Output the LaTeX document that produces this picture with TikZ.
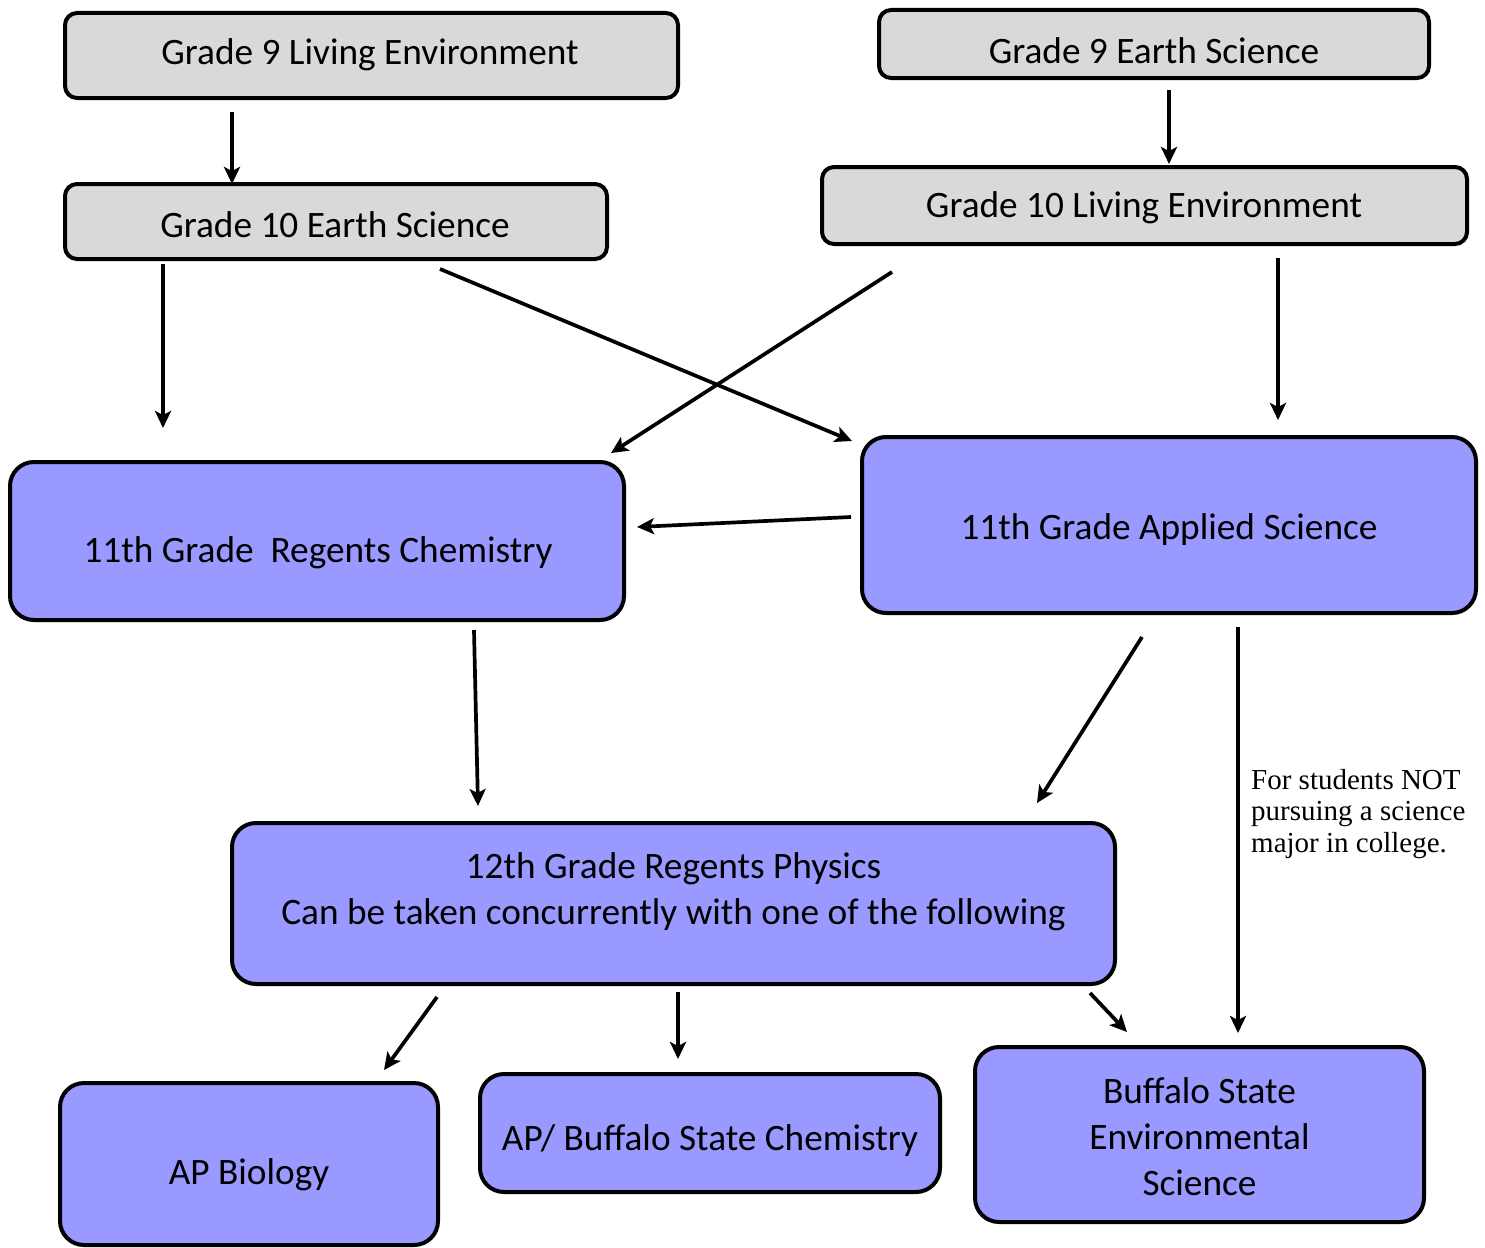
\documentclass[tikz,border=0pt]{standalone}
\usepackage{fontspec}
\setmainfont{Carlito}
\newfontfamily\notefont{Liberation Serif}
\usetikzlibrary{arrows.meta}
\definecolor{boxgray}{HTML}{D9D9D9}
\definecolor{boxblue}{HTML}{9999FF}
\tikzset{
  graybox/.style={draw=black, line width=4pt, fill=boxgray, rounded corners=12pt, inner sep=0pt},
  bluebox/.style={draw=black, line width=4pt, fill=boxblue, rounded corners=24pt, inner sep=0pt},
  txt/.style={font=\fontsize{37.3}{46}\selectfont, align=center, inner sep=0pt},
  arr/.style={line width=3.7pt, -{Stealth[length=17pt, width=16pt, inset=4pt]}}
}
\begin{document}
\begin{tikzpicture}[x=1pt, y=-1pt]
\useasboundingbox (0,0) rectangle (1485,1247);
% boxes
\node[graybox, minimum width=613pt, minimum height=85pt] (g9le) at (371.5,55.5) {};
\node[txt] (g9leT) at (370,55) {Grade 9 Living Environment};
\node[graybox, minimum width=550pt, minimum height=68pt] (g9es) at (1154,44) {};
\node[txt] (g9esT) at (1154,51) {Grade 9 Earth Science};
\node[graybox, minimum width=542pt, minimum height=75pt] (g10es) at (336,221.5) {};
\node[txt] (g10esT) at (335,225) {Grade 10 Earth Science};
\node[graybox, minimum width=645pt, minimum height=77pt] (g10le) at (1144.5,205.5) {};
\node[txt] (g10leT) at (1144,208) {Grade 10 Living Environment};
\node[bluebox, minimum width=614pt, minimum height=158pt] (chem) at (317,541) {};
\node[txt] (chemT) at (318,553) {11th Grade\ \ Regents Chemistry};
\node[bluebox, minimum width=614pt, minimum height=176pt] (appl) at (1169,525) {};
\node[txt] (applT) at (1169,530) {11th Grade Applied Science};
\node[bluebox, minimum width=883pt, minimum height=161pt] (phys) at (673.5,903.5) {};
\node[txt] (physT) at (673.5,891.5) {12th Grade Regents Physics\\Can be taken concurrently with one of the following};
\node[bluebox, minimum width=378pt, minimum height=162pt] (apbio) at (249,1164) {};
\node[txt] (apbioT) at (249,1175) {AP Biology};
\node[bluebox, minimum width=460pt, minimum height=118pt] (apchem) at (710,1133) {};
\node[txt] (apchemT) at (710,1141) {AP/ Buffalo State Chemistry};
\node[bluebox, minimum width=449pt, minimum height=175pt] (bsenv) at (1199.5,1134.5) {};
\node[txt] (bsenvT) at (1199.5,1137) {Buffalo State\\Environmental\\Science};
% note
\node[anchor=north west, align=left, inner sep=0pt, font=\notefont\fontsize{29}{31.5}\selectfont] (note) at (1251,769) {For students NOT\\pursuing a science\\major in college.};
% arrow end points
\coordinate (a1) at (232,112);  \coordinate (a2) at (232,184);
\coordinate (b1) at (1169,90);  \coordinate (b2) at (1169,164);
\coordinate (c1) at (163,264);  \coordinate (c2) at (163,428);
\coordinate (d1) at (440,269);  \coordinate (d2) at (852,441);
\coordinate (e1) at (892,272);  \coordinate (e2) at (611,453);
\coordinate (f1) at (1278,258); \coordinate (f2) at (1278,420);
\coordinate (g1) at (851,517);  \coordinate (g2) at (637,527);
\coordinate (h1) at (474,630);  \coordinate (h2) at (478,806);
\coordinate (i1) at (1142,637); \coordinate (i2) at (1037,803);
\coordinate (j1) at (1238,627); \coordinate (j2) at (1238,1033);
\coordinate (k1) at (437,997);  \coordinate (k2) at (384,1070);
\coordinate (l1) at (678,992);  \coordinate (l2) at (678,1059);
\coordinate (m1) at (1090,993); \coordinate (m2) at (1127,1032);
\foreach \s in {a,b,c,d,e,f,g,h,i,j,k,l,m}
  \draw[arr] (\s1) -- (\s2);
\end{tikzpicture}
\end{document}
